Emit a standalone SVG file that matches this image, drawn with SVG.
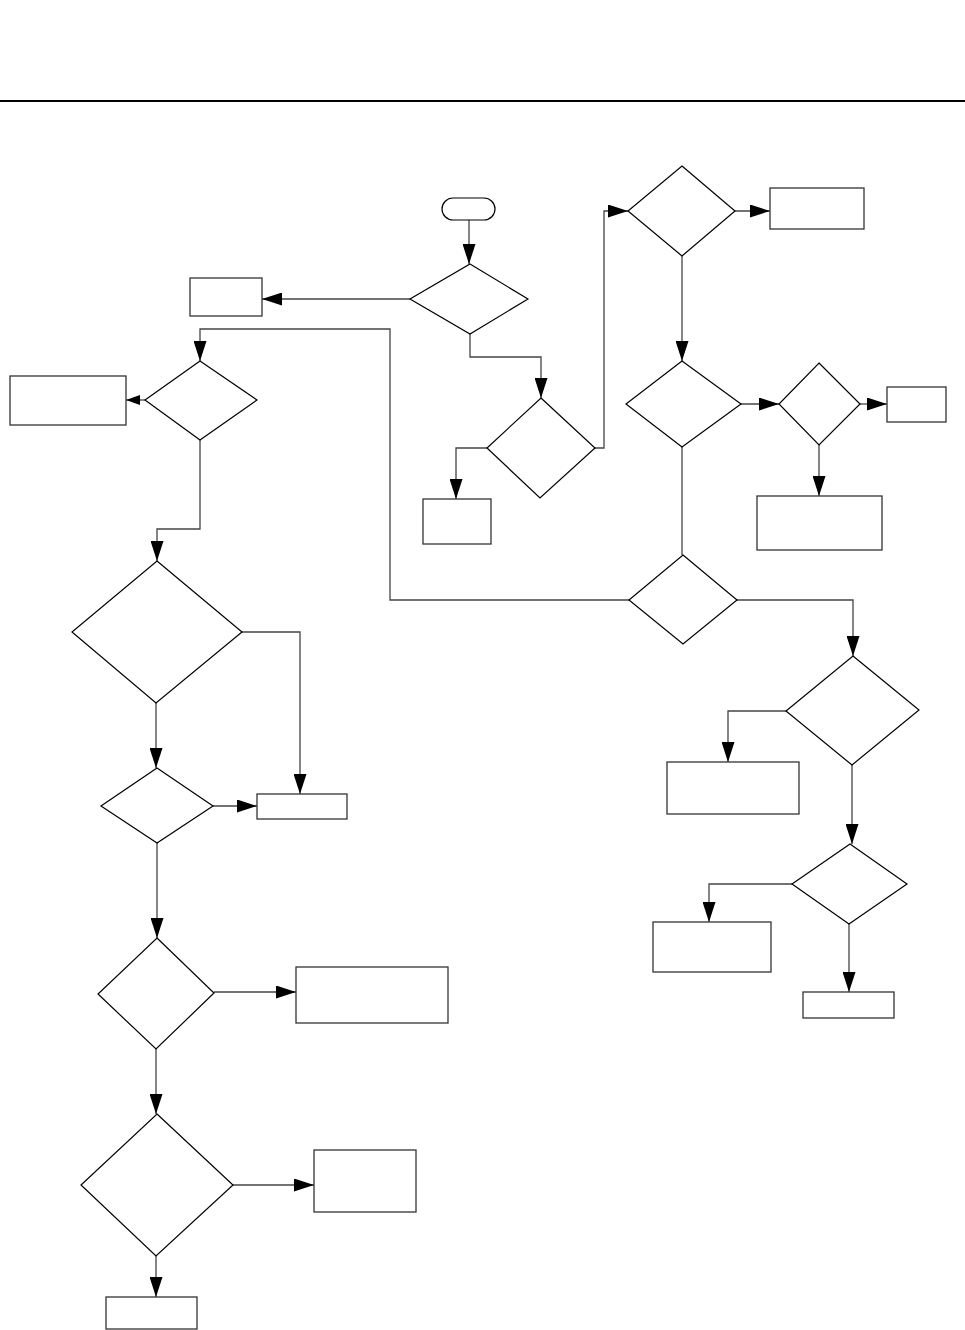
<svg xmlns="http://www.w3.org/2000/svg" width="965" height="1330" viewBox="0 0 965 1330">
<defs>
<style>
.d{fill:#fff;stroke:#000;stroke-width:1.2}
.b{fill:#fff;stroke:#333;stroke-width:1.3}
.c{fill:none;stroke:#444;stroke-width:1.3}
</style>
<marker id="ah" markerUnits="userSpaceOnUse" markerWidth="20" markerHeight="13" refX="20" refY="6.5" orient="auto" viewBox="0 0 20 13"><path d="M0,0 L20,6.5 L0,13 z" fill="#000"/></marker>
<marker id="as" markerUnits="userSpaceOnUse" markerWidth="14" markerHeight="10" refX="14" refY="5" orient="auto" viewBox="0 0 14 10"><path d="M0,0 L14,5 L0,10 z" fill="#000"/></marker>
</defs>
<rect width="965" height="1330" fill="#fff"/>
<line x1="0" y1="101" x2="965" y2="101" stroke="#000" stroke-width="2"/>
<g id="connectors">
<path class="c" d="M469,220 V264" marker-end="url(#ah)"/>
<path class="c" d="M410,299 H262" marker-end="url(#ah)"/>
<path class="c" d="M470,334 V357 H541 V398" marker-end="url(#ah)"/>
<path class="c" d="M487,448 H456 V499" marker-end="url(#ah)"/>
<path class="c" d="M595,448 H604 V211 H628" marker-end="url(#ah)"/>
<path class="c" d="M735,211 H770" marker-end="url(#ah)"/>
<path class="c" d="M682,256 V361" marker-end="url(#ah)"/>
<path class="c" d="M741,404 H779" marker-end="url(#ah)"/>
<path class="c" d="M860,404 H887" marker-end="url(#ah)"/>
<path class="c" d="M819,445 V496" marker-end="url(#ah)"/>
<path class="c" d="M682,447 V555"/>
<path class="c" d="M629,600 H390 V329 H200 V361" marker-end="url(#ah)"/>
<path class="c" d="M145,400 H126" marker-end="url(#as)"/>
<path class="c" d="M200,440 V529 H157 V561" marker-end="url(#ah)"/>
<path class="c" d="M242,632 H300 V794" marker-end="url(#ah)"/>
<path class="c" d="M156,703 V768" marker-end="url(#ah)"/>
<path class="c" d="M213,806 H257" marker-end="url(#ah)"/>
<path class="c" d="M157,843 V938" marker-end="url(#ah)"/>
<path class="c" d="M214,992 H296" marker-end="url(#ah)"/>
<path class="c" d="M156,1049 V1114" marker-end="url(#ah)"/>
<path class="c" d="M233,1185 H314" marker-end="url(#ah)"/>
<path class="c" d="M156,1256 V1297" marker-end="url(#ah)"/>
<path class="c" d="M737,600 H853 V656" marker-end="url(#ah)"/>
<path class="c" d="M786,711 H728 V762" marker-end="url(#ah)"/>
<path class="c" d="M852,765 V844" marker-end="url(#ah)"/>
<path class="c" d="M792,884 H709 V922" marker-end="url(#ah)"/>
<path class="c" d="M849,924 V992" marker-end="url(#ah)"/>
</g>
<g id="start"><rect class="d" x="442" y="198" width="53" height="22" rx="11"/></g>
<g id="d1"><polygon class="d" points="470,264 528,299 470,334 410,299"/></g>
<g id="b1"><rect class="b" x="190" y="278" width="72" height="38"/></g>
<g id="d2"><polygon class="d" points="541,398 595,448 540,498 487,448"/></g>
<g id="b7"><rect class="b" x="423" y="499" width="68" height="45"/></g>
<g id="d9"><polygon class="d" points="682,166 735,211 682,256 628,211"/></g>
<g id="b8"><rect class="b" x="770" y="188" width="94" height="41"/></g>
<g id="d10"><polygon class="d" points="682,361 741,404 682,447 626,404"/></g>
<g id="d11"><polygon class="d" points="819,363 860,404 819,445 779,404"/></g>
<g id="b9"><rect class="b" x="887" y="387" width="59" height="35"/></g>
<g id="b10"><rect class="b" x="757" y="496" width="125" height="54"/></g>
<g id="d6"><polygon class="d" points="683,555 737,600 683,644 629,600"/></g>
<g id="d3"><polygon class="d" points="200,361 257,400 200,440 145,400"/></g>
<g id="b2"><rect class="b" x="10" y="376" width="116" height="49"/></g>
<g id="d4"><polygon class="d" points="157,561 242,632 156,703 72,632"/></g>
<g id="b3"><rect class="b" x="257" y="794" width="90" height="25"/></g>
<g id="d5"><polygon class="d" points="157,768 213,806 157,843 101,806"/></g>
<g id="d7"><polygon class="d" points="157,938 214,993 156,1049 98,994"/></g>
<g id="b4"><rect class="b" x="296" y="967" width="152" height="56"/></g>
<g id="d8"><polygon class="d" points="157,1114 233,1185 156,1256 81,1185"/></g>
<g id="b5"><rect class="b" x="314" y="1150" width="102" height="62"/></g>
<g id="b6"><rect class="b" x="106" y="1297" width="91" height="32"/></g>
<g id="d12"><polygon class="d" points="853,656 919,710 852,765 786,711"/></g>
<g id="b11"><rect class="b" x="667" y="762" width="132" height="52"/></g>
<g id="d13"><polygon class="d" points="850,844 907,884 849,924 792,884"/></g>
<g id="b12"><rect class="b" x="653" y="922" width="118" height="50"/></g>
<g id="b13"><rect class="b" x="803" y="992" width="91" height="26"/></g>
</svg>
